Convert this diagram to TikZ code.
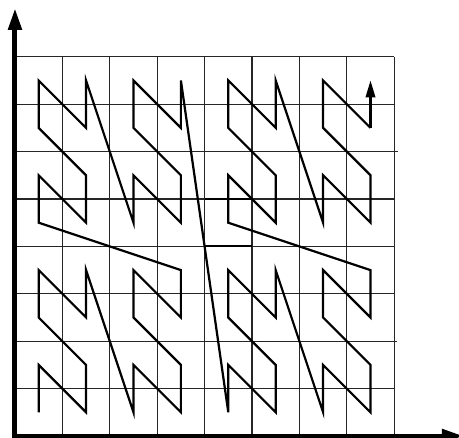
\documentclass[tikz,border=0pt]{standalone}
\usepackage{tikz}
\usetikzlibrary{arrows.meta}

\begin{document}
\begin{tikzpicture}[x=47.4pt, y=47.4pt,
    gridline/.style={black!85, line width=1.2pt},
    curveline/.style={black, line width=2.2pt, line join=miter},
    axisline/.style={black, line width=5pt}]
    \useasboundingbox (-0.316,-0.021) rectangle (9.367,9.198);

    % 8x8 cells
    \draw[gridline, step=1] (0,0) grid (8,8);
    \draw[gridline] (8,6) -- (8.08,6);
    \draw[gridline] (8,2) -- (8.05,2);
    \draw[black, line width=2pt] (4,5) -- (5,5);
    \draw[black, line width=2pt] (4,4) -- (5,4);

    % cell centres in N order (y bit first, then x bit)
    \foreach \i in {0,...,63} {
        \pgfmathtruncatemacro\cx{mod(floor(\i/2),2)+2*mod(floor(\i/8),2)+4*mod(floor(\i/32),2)}
        \pgfmathtruncatemacro\cy{mod(\i,2)+2*mod(floor(\i/4),2)+4*mod(floor(\i/16),2)}
        \coordinate (p\i) at (\cx+0.5,\cy+0.5);
    }

    % the curve
    \draw[curveline] (p0) \foreach \i in {1,...,62} { -- (p\i) };
    \draw[curveline, -{Triangle[length=17pt,width=9.5pt]}] (p62) -- (p63);

    % axes
    \coordinate (origin) at (0,0);
    \coordinate (yend) at (0,9.03);
    \coordinate (xend) at (9.47,0);
    \draw[axisline, -{Triangle[length=22pt,width=13pt]}] ([yshift=-4pt]origin) -- (yend);
    \draw[axisline, -{Triangle[length=22pt,width=13pt]}] ([xshift=-2.5pt]origin) -- (xend);
\end{tikzpicture}
\end{document}
